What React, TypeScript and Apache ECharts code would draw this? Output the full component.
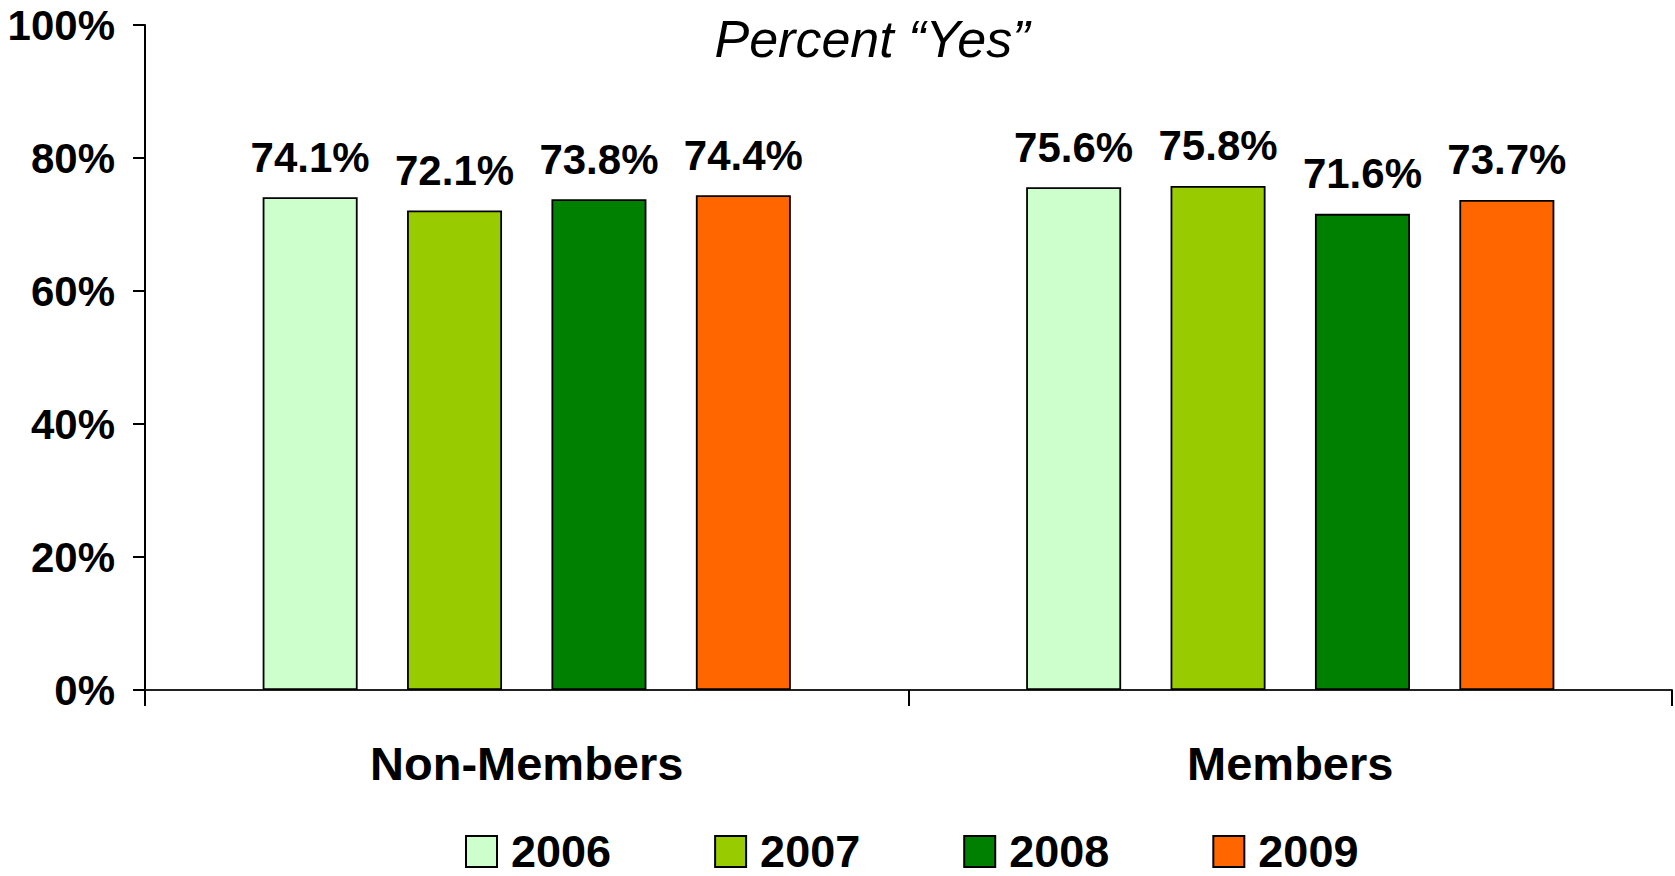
import React, { useEffect, useRef } from "react";
import * as echarts from "echarts";

const categories = ["Non-Members", "Members"];
const years = ["2006", "2007", "2008", "2009"];
const values2006 = [74.1, 75.6];
const values2007 = [72.1, 75.8];
const values2008 = [73.8, 71.6];
const values2009 = [74.4, 73.7];
const yTicks = [0, 20, 40, 60, 80, 100];
const colors = ["#CCFFCC", "#99CC00", "#008000", "#FF6600"];
const titleText = "Percent \u201cYes\u201d";

const FONT = "Liberation Sans, Arial, Helvetica, sans-serif";

export default function App() {
  const ref = useRef<HTMLDivElement>(null);
  useEffect(() => {
    document.body.style.margin = "0";
    if (!ref.current) return;
    const chart = echarts.init(ref.current, null, { renderer: "svg" });
    const seriesValues = [values2006, values2007, values2008, values2009];
    chart.setOption({
      animation: false,
      backgroundColor: "#ffffff",
      textStyle: { fontFamily: FONT },
      grid: { left: 145, right: 3, top: 25, bottom: 186, containLabel: false },
      graphic: [
        {
          type: "text",
          x: 872,
          y: 39,
          style: {
            text: titleText,
            fontFamily: FONT,
            fontSize: 52,
            fontStyle: "italic",
            fill: "#000",
            textAlign: "center",
            textVerticalAlign: "middle",
          },
        },
      ],
      legend: {
        left: 465,
        top: 829,
        padding: 0,
        itemWidth: 31,
        itemHeight: 31,
        itemGap: 103,
        icon: "rect",
        data: years,
        textStyle: {
          fontFamily: FONT,
          fontSize: 45,
          fontWeight: "bold",
          color: "#000",
          padding: [0, 0, 0, 9],
        },
      },
      xAxis: {
        type: "category",
        data: categories,
        axisLine: { lineStyle: { color: "#222", width: 2 } },
        axisTick: { show: true, length: 16, lineStyle: { color: "#000", width: 2 } },
        axisLabel: {
          margin: 50,
          fontFamily: FONT,
          fontSize: 47,
          fontWeight: "bold",
          color: "#000",
        },
      },
      yAxis: {
        type: "value",
        min: yTicks[0],
        max: yTicks[yTicks.length - 1],
        interval: 20,
        splitLine: { show: false },
        axisLine: { show: true, lineStyle: { color: "#000", width: 2 } },
        axisTick: { show: true, length: 12, lineStyle: { color: "#000", width: 2 } },
        axisLabel: {
          margin: 30,
          formatter: "{value}%",
          fontFamily: FONT,
          fontSize: 42,
          fontWeight: "bold",
          color: "#000",
        },
      },
      series: years.map((y, i) => ({
        name: y,
        type: "bar",
        data: seriesValues[i],
        barWidth: 95,
        barGap: "52%",
        itemStyle: { color: colors[i], borderColor: "#000", borderWidth: 1.8 },
        label: {
          show: true,
          position: "top",
          distance: 19,
          formatter: "{c}%",
          fontFamily: FONT,
          fontSize: 42,
          fontWeight: "bold",
          color: "#000",
        },
      })),
    });
    return () => chart.dispose();
  }, []);
  return <div ref={ref} style={{ width: 1675, height: 876 }} />;
}
